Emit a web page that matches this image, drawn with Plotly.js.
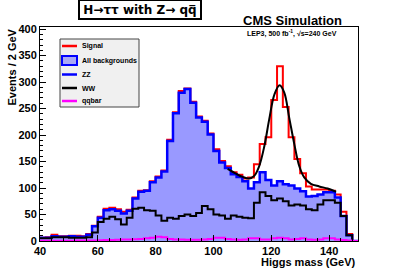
<!DOCTYPE html>
<html><head><meta charset="utf-8">
<script src="https://cdn.plot.ly/plotly-3.0.1.min.js"></script>
<style>html,body{margin:0;padding:0;background:#fff}#chart{width:399px;height:270px}</style>
</head><body><div id="chart"></div>
<script>
// Bin low edges (GeV), 2 GeV bins, histogram upper edge 150
const binLowEdges = [40,42,44,46,48,50,52,54,56,58,60,62,64,66,68,70,72,74,76,78,80,82,84,86,88,90,92,94,96,98,100,102,104,106,108,110,112,114,116,118,120,122,124,126,128,130,132,134,136,138,140,142,144,146,148];
const histUpperEdge = 150;
// Signal + all backgrounds (red outline)
const totalSigBkg = [6,7,12,9,9,10,10,9,13,29, 46,61,63,60,55,59,82,95,96,113, 122,133,191,243,283,288,263,235,227,203, 173,151,141,130,125,118,120,145,183,196, 266,330,253,196,155,128,103,97,97,97, 95,88,55,13,0];
// All backgrounds (hatched blue)
const allBackgrounds = [6,6,9,8,8,9,8,8,12,28, 44,58,60,57,52,57,80,93,95,111, 120,131,189,241,280,287,261,233,225,201, 170,148,138,126,121,113,99,111,130,115, 105,113,107,105,99,94,84,85,88,92, 92,82,47,11,0];
// WW background (black)
const wwBkg = [5,5,7,7,7,6,6,6,7,16, 36,42,46,41,31,44,61,63,58,57, 48,38,44,42,47,50,47,53,66,60, 50,48,42,48,46,44,43,72,92,85, 77,80,75,67,69,67,60,58,69,77, 77,72,47,11,0];
// qqbar background (magenta)
const qqbarBkg = [0.5,0.5,0.5,0.5,0.5,0.5,1,1,1,1, 1.5,2,2,2.5,3,3,3.5,4,5,6, 8,7,4,3,3,2.5,2.5,2.5,3,4, 6,6,4,3,2.5,3,5,5,3,3, 5,6,5,3,4,5,3,2.5,3,5, 5,3,2,1,0];
// Fit curve
const fitMass  = [104.9,107.8,110.1,112.4,114.1,115.8,117.6,119.3,121.1,122.9,124.5,126.2,128.0,129.7,131.4,133.7,136.6,139.5,142.4];
const fitValue = [136,127,121,118,123,141,179,230,277,294,280,233,182,141,120,108,103,99,93];
// Legend
const legendLabels = ["Signal","All backgrounds","ZZ","WW","qqbar"];
const legendColors = ["#ff0000","#0000ff","#0000ff","#000000","#ff00ff"];

const stepX = binLowEdges.concat([histUpperEdge]);
const stepY = arr => arr.concat([arr[arr.length-1]]);
const FONT = "Liberation Sans, Arial, Helvetica, sans-serif";

const traces = [
  {x: stepX, y: stepY(totalSigBkg), mode: "lines", name: "Signal",
   line: {color: "#ff0000", width: 2, shape: "hv"}, hoverinfo: "skip"},
  {x: stepX, y: stepY(allBackgrounds), mode: "lines", name: "All backgrounds",
   fill: "tozeroy", fillcolor: "rgba(0,0,0,0)",
   fillpattern: {shape: ".", fgcolor: "#0000ff", bgcolor: "#ffffff", size: 2, solidity: 0.42},
   line: {color: "#0000ff", width: 2.5, shape: "hv"}, hoverinfo: "skip"},
  {x: stepX, y: stepY(wwBkg), mode: "lines", name: "WW",
   line: {color: "#000000", width: 2, shape: "hv"}, hoverinfo: "skip"},
  {x: stepX, y: stepY(qqbarBkg), mode: "lines", name: "qqbar",
   line: {color: "#ff00ff", width: 2, shape: "hv"}, hoverinfo: "skip"},
  {x: fitMass, y: fitValue, mode: "lines", name: "fit",
   line: {color: "#000000", width: 2, shape: "spline", smoothing: 1}, hoverinfo: "skip"}
];

// plot area in pixels: x 40..358, y 27..241
const px = v => (v - 40) / 318;
const py = v => (241 - v) / 214;

const shapes = [
  // legend box
  {type: "rect", xref: "paper", yref: "paper", x0: px(60), x1: px(139), y0: py(107), y1: py(39),
   fillcolor: "#f0f0f0", line: {color: "#444444", width: 1}, layer: "above"}
];
const rowY = [46, 60.5, 74.5, 88, 101];
const annotations = [];
rowY.forEach((r, i) => {
  if (i === 1) {
    shapes.push({type: "rect", xref: "paper", yref: "paper", x0: px(62), x1: px(77), y0: py(65), y1: py(56),
      fillcolor: "#a9a9f5", line: {color: legendColors[i], width: 2}, layer: "above"});
  } else {
    shapes.push({type: "line", xref: "paper", yref: "paper", x0: px(62), x1: px(77), y0: py(r), y1: py(r),
      line: {color: legendColors[i], width: 2.5}, layer: "above"});
  }
  annotations.push({xref: "paper", yref: "paper", x: px(80), y: py(r), xanchor: "left", yanchor: "middle",
    text: legendLabels[i], showarrow: false, font: {family: FONT, size: 7, weight: "bold", color: "#000"}});
});

annotations.push(
  {xref: "paper", yref: "paper", x: px(140), y: py(9.5), xanchor: "center", yanchor: "middle",
   text: "H\u2192\u03c4\u03c4 with Z\u2192 qq\u0305", showarrow: false,
   bgcolor: "#ffffff", bordercolor: "#000000", borderwidth: 2, borderpad: 1, width: 118, height: 15,
   font: {family: "DejaVu Sans, " + FONT, size: 12, weight: "bold", color: "#000"}},
  {xref: "paper", yref: "paper", x: px(292), y: py(20), xanchor: "center", yanchor: "middle",
   text: "CMS Simulation", showarrow: false,
   font: {family: FONT, size: 13, weight: "bold", color: "#000"}},
  {xref: "paper", yref: "paper", x: px(291.5), y: py(34), xanchor: "center", yanchor: "middle",
   text: "LEP3, 500 fb<sup>-1</sup>, \u221As=240 GeV", showarrow: false,
   font: {family: FONT, size: 7, weight: "bold", color: "#000"}},
  {xref: "paper", yref: "paper", x: px(11), y: py(67.5), xanchor: "center", yanchor: "middle",
   text: "Events / 2 GeV", textangle: -90, showarrow: false,
   font: {family: FONT, size: 11, weight: "bold", color: "#000"}},
  {xref: "paper", yref: "paper", x: px(357), y: py(262), xanchor: "right", yanchor: "middle",
   text: "Higgs mass (GeV)", showarrow: false,
   font: {family: FONT, size: 11, weight: "bold", color: "#000"}}
);

const tickFont = {family: FONT, size: 11, weight: "bold", color: "#000"};
const layout = {
  width: 399, height: 270,
  margin: {l: 40, r: 41, t: 27, b: 29, pad: 0},
  paper_bgcolor: "#ffffff", plot_bgcolor: "#ffffff",
  showlegend: false,
  xaxis: {range: [40, 150], tick0: 40, dtick: 20, ticks: "inside", ticklen: 6, tickwidth: 1, tickcolor: "#000",
    minor: {dtick: 4, tick0: 40, ticks: "inside", ticklen: 3, tickcolor: "#000"},
    showline: true, mirror: true, linecolor: "#000", linewidth: 1, showgrid: false, zeroline: false,
    tickfont: tickFont},
  yaxis: {range: [0, 404], tick0: 0, dtick: 50, ticks: "inside", ticklen: 6, tickwidth: 1, tickcolor: "#000",
    minor: {dtick: 10, ticks: "inside", ticklen: 3, tickcolor: "#000"},
    showline: true, mirror: true, linecolor: "#000", linewidth: 1, showgrid: false, zeroline: false,
    tickfont: tickFont},
  shapes: shapes,
  annotations: annotations
};
Plotly.newPlot("chart", traces, layout, {displayModeBar: false, staticPlot: true});
</script></body></html>
